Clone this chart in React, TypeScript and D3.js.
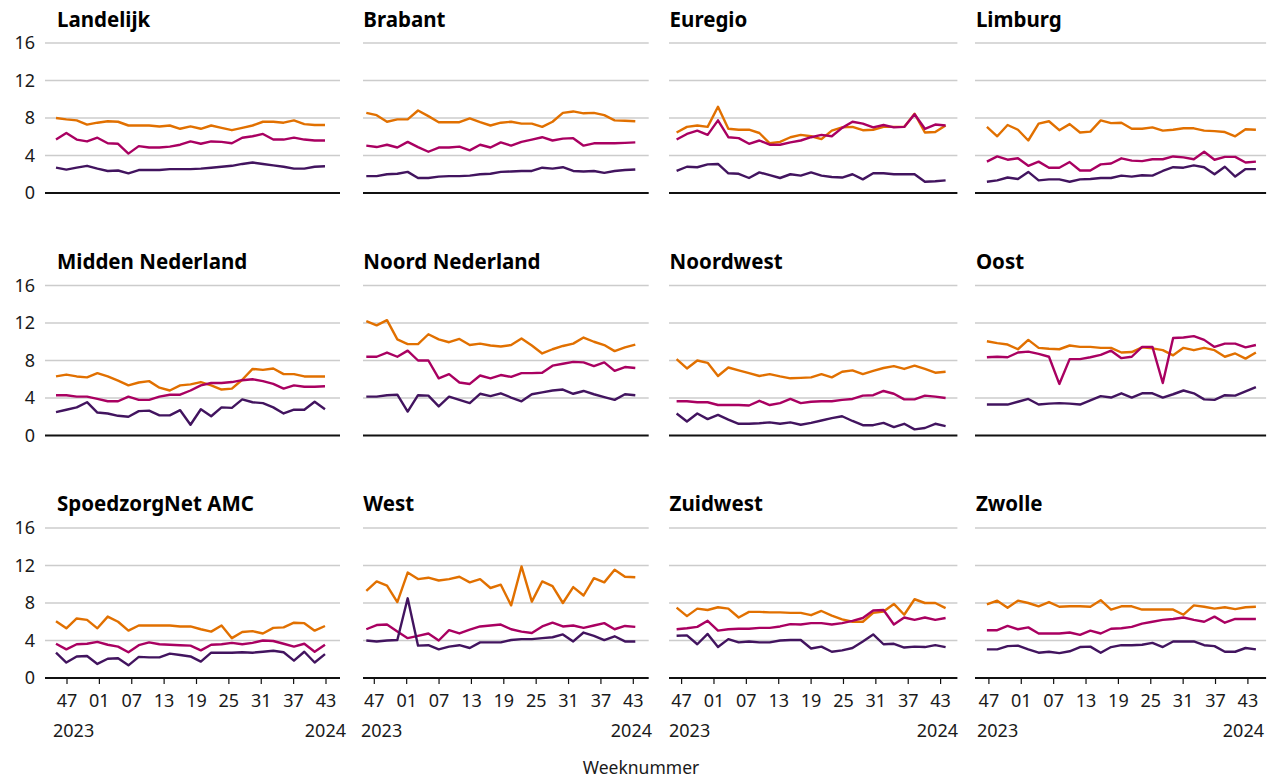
import React from 'react';
import * as d3 from 'd3';

const regions = [
  'Landelijk', 'Brabant', 'Euregio', 'Limburg',
  'Midden Nederland', 'Noord Nederland', 'Noordwest', 'Oost',
  'SpoedzorgNet AMC', 'West', 'Zuidwest', 'Zwolle',
];

// one row per region, 27 fortnightly points each
const orange: number[][] = [
  [8.0, 7.85, 7.75, 7.3, 7.5, 7.65, 7.6, 7.2, 7.2, 7.2, 7.1, 7.2, 6.85, 7.1, 6.85, 7.2, 6.95, 6.7, 6.95, 7.2, 7.6, 7.6, 7.5, 7.75, 7.35, 7.25, 7.25],
  [8.55, 8.3, 7.6, 7.85, 7.85, 8.8, 8.2, 7.55, 7.55, 7.55, 7.95, 7.55, 7.2, 7.5, 7.6, 7.4, 7.4, 7.05, 7.6, 8.55, 8.7, 8.5, 8.55, 8.3, 7.75, 7.7, 7.65],
  [6.45, 7.05, 7.2, 7.05, 9.2, 6.85, 6.75, 6.75, 6.4, 5.3, 5.45, 5.95, 6.2, 6.05, 5.75, 6.65, 7.0, 7.05, 6.7, 6.75, 7.05, 7.05, 7.05, 8.45, 6.45, 6.5, 7.2],
  [7.05, 6.05, 7.25, 6.75, 5.6, 7.4, 7.65, 6.7, 7.35, 6.45, 6.55, 7.75, 7.45, 7.5, 6.85, 6.85, 7.0, 6.65, 6.75, 6.9, 6.9, 6.65, 6.6, 6.5, 6.05, 6.8, 6.75],
  [6.3, 6.5, 6.3, 6.2, 6.65, 6.3, 5.85, 5.35, 5.65, 5.8, 5.1, 4.8, 5.35, 5.45, 5.7, 5.35, 4.9, 5.0, 5.95, 7.1, 7.0, 7.15, 6.55, 6.55, 6.3, 6.3, 6.3],
  [12.2, 11.75, 12.3, 10.25, 9.75, 9.75, 10.8, 10.25, 9.95, 10.3, 9.65, 9.8, 9.6, 9.5, 9.65, 10.35, 9.6, 8.75, 9.2, 9.55, 9.8, 10.45, 10.0, 9.65, 9.0, 9.4, 9.7],
  [8.15, 7.15, 8.0, 7.75, 6.35, 7.25, 6.95, 6.65, 6.35, 6.55, 6.3, 6.1, 6.15, 6.2, 6.55, 6.2, 6.8, 6.95, 6.55, 6.9, 7.2, 7.4, 7.1, 7.45, 7.1, 6.7, 6.8],
  [10.05, 9.85, 9.7, 9.2, 10.2, 9.35, 9.25, 9.2, 9.6, 9.45, 9.45, 9.35, 9.35, 8.85, 8.9, 9.4, 9.3, 9.1, 8.55, 9.35, 9.1, 9.35, 9.1, 8.4, 8.75, 8.2, 8.85],
  [6.05, 5.3, 6.35, 6.2, 5.3, 6.55, 6.0, 5.05, 5.6, 5.6, 5.6, 5.6, 5.5, 5.5, 5.2, 4.95, 5.6, 4.25, 4.9, 5.0, 4.75, 5.35, 5.4, 5.9, 5.85, 5.05, 5.55],
  [9.3, 10.3, 9.85, 8.1, 11.25, 10.55, 10.7, 10.4, 10.55, 10.8, 10.2, 10.55, 9.6, 9.95, 7.75, 11.9, 8.15, 10.3, 9.8, 8.0, 9.7, 8.8, 10.65, 10.2, 11.55, 10.8, 10.75],
  [7.5, 6.6, 7.4, 7.25, 7.55, 7.4, 6.45, 7.05, 7.05, 7.0, 7.0, 6.95, 6.95, 6.7, 7.15, 6.65, 6.25, 6.0, 6.0, 6.95, 7.1, 7.9, 6.75, 8.4, 8.0, 8.0, 7.45],
  [7.85, 8.25, 7.5, 8.25, 8.0, 7.65, 8.1, 7.6, 7.65, 7.65, 7.6, 8.3, 7.3, 7.65, 7.65, 7.3, 7.3, 7.3, 7.3, 6.75, 7.75, 7.6, 7.4, 7.55, 7.35, 7.55, 7.6],
];

const magenta: number[][] = [
  [5.7, 6.4, 5.7, 5.5, 5.9, 5.3, 5.25, 4.2, 5.0, 4.85, 4.85, 4.95, 5.15, 5.5, 5.25, 5.5, 5.45, 5.3, 5.9, 6.05, 6.3, 5.7, 5.7, 5.9, 5.7, 5.6, 5.6],
  [5.05, 4.9, 5.15, 4.85, 5.45, 4.9, 4.4, 4.85, 4.85, 4.95, 4.55, 5.15, 4.85, 5.4, 5.05, 5.45, 5.7, 5.95, 5.6, 5.8, 5.85, 5.05, 5.3, 5.3, 5.3, 5.35, 5.4],
  [5.7, 6.3, 6.65, 6.2, 7.75, 5.95, 5.85, 5.25, 5.6, 5.15, 5.15, 5.4, 5.6, 5.95, 6.2, 6.05, 6.95, 7.6, 7.4, 7.0, 7.25, 7.0, 7.05, 8.4, 6.85, 7.3, 7.2],
  [3.35, 3.9, 3.55, 3.7, 2.9, 3.35, 2.7, 2.7, 3.3, 2.4, 2.4, 3.05, 3.15, 3.7, 3.45, 3.4, 3.6, 3.6, 3.9, 3.8, 3.6, 4.4, 3.55, 3.85, 3.85, 3.25, 3.35],
  [4.3, 4.3, 4.15, 4.15, 3.9, 3.65, 3.65, 4.15, 3.8, 3.8, 4.15, 4.35, 4.35, 4.8, 5.35, 5.6, 5.6, 5.7, 5.9, 6.0, 5.8, 5.5, 5.0, 5.35, 5.2, 5.2, 5.25],
  [8.4, 8.4, 8.85, 8.4, 9.05, 8.0, 8.0, 6.1, 6.55, 5.65, 5.5, 6.4, 6.1, 6.45, 6.25, 6.65, 6.65, 6.7, 7.45, 7.65, 7.85, 7.8, 7.4, 7.8, 6.9, 7.3, 7.2],
  [3.65, 3.65, 3.55, 3.55, 3.25, 3.25, 3.25, 3.2, 3.7, 3.25, 3.45, 3.9, 3.45, 3.6, 3.65, 3.65, 3.8, 3.9, 4.25, 4.3, 4.75, 4.45, 3.85, 3.85, 4.25, 4.15, 4.0],
  [8.35, 8.4, 8.35, 8.85, 8.95, 8.7, 8.4, 5.5, 8.15, 8.15, 8.35, 8.6, 9.05, 8.25, 8.4, 9.45, 9.45, 5.6, 10.4, 10.45, 10.6, 10.2, 9.45, 9.8, 9.8, 9.4, 9.65],
  [3.65, 3.05, 3.6, 3.65, 3.85, 3.55, 3.35, 2.75, 3.5, 3.8, 3.6, 3.55, 3.5, 3.45, 2.95, 3.55, 3.6, 3.75, 3.6, 3.75, 4.0, 3.95, 3.65, 3.35, 3.65, 2.8, 3.55],
  [5.2, 5.65, 5.7, 4.95, 4.25, 4.5, 4.75, 4.0, 5.1, 4.75, 5.15, 5.5, 5.6, 5.7, 5.2, 4.95, 4.8, 5.5, 5.9, 5.5, 5.6, 5.35, 5.6, 5.85, 5.2, 5.55, 5.45],
  [5.2, 5.3, 5.45, 6.1, 5.05, 5.2, 5.25, 5.25, 5.35, 5.35, 5.5, 5.75, 5.7, 5.85, 5.85, 5.7, 5.85, 6.1, 6.4, 7.2, 7.25, 5.7, 6.45, 6.2, 6.45, 6.2, 6.4],
  [5.1, 5.1, 5.55, 5.2, 5.4, 4.75, 4.75, 4.75, 4.85, 4.6, 5.05, 4.75, 5.25, 5.3, 5.45, 5.8, 6.0, 6.2, 6.3, 6.45, 6.2, 6.0, 6.55, 5.9, 6.3, 6.3, 6.3],
];

const purple: number[][] = [
  [2.7, 2.5, 2.7, 2.9, 2.6, 2.35, 2.4, 2.1, 2.45, 2.45, 2.45, 2.55, 2.55, 2.55, 2.6, 2.7, 2.8, 2.9, 3.1, 3.25, 3.1, 2.95, 2.8, 2.6, 2.6, 2.8, 2.85],
  [1.8, 1.8, 2.0, 2.05, 2.25, 1.6, 1.6, 1.75, 1.8, 1.8, 1.85, 2.0, 2.05, 2.25, 2.3, 2.35, 2.35, 2.7, 2.6, 2.75, 2.35, 2.3, 2.35, 2.15, 2.35, 2.45, 2.5],
  [2.35, 2.8, 2.75, 3.05, 3.1, 2.1, 2.05, 1.6, 2.2, 1.9, 1.6, 2.0, 1.85, 2.2, 1.85, 1.7, 1.65, 2.0, 1.45, 2.1, 2.1, 2.0, 2.0, 2.0, 1.2, 1.25, 1.35],
  [1.2, 1.35, 1.65, 1.5, 2.25, 1.35, 1.45, 1.45, 1.2, 1.45, 1.5, 1.6, 1.6, 1.85, 1.75, 1.9, 1.85, 2.35, 2.75, 2.7, 2.95, 2.75, 2.0, 2.8, 1.75, 2.55, 2.55],
  [2.5, 2.75, 3.0, 3.55, 2.45, 2.35, 2.1, 2.0, 2.6, 2.65, 2.15, 2.15, 2.7, 1.15, 2.8, 2.05, 3.0, 2.95, 3.85, 3.55, 3.45, 3.0, 2.35, 2.75, 2.75, 3.6, 2.8],
  [4.15, 4.15, 4.3, 4.35, 2.55, 4.3, 4.25, 3.1, 4.15, 3.8, 3.45, 4.45, 4.2, 4.5, 4.05, 3.65, 4.4, 4.6, 4.8, 4.9, 4.45, 4.75, 4.4, 4.1, 3.8, 4.4, 4.3],
  [2.35, 1.5, 2.35, 1.75, 2.2, 1.7, 1.25, 1.25, 1.3, 1.4, 1.25, 1.4, 1.15, 1.35, 1.6, 1.85, 2.05, 1.55, 1.1, 1.1, 1.35, 0.9, 1.25, 0.65, 0.8, 1.25, 1.0],
  [3.3, 3.3, 3.3, 3.6, 3.9, 3.3, 3.4, 3.45, 3.4, 3.3, 3.75, 4.2, 4.05, 4.5, 4.05, 4.5, 4.5, 4.05, 4.4, 4.8, 4.5, 3.85, 3.8, 4.3, 4.25, 4.7, 5.15],
  [2.7, 1.65, 2.3, 2.35, 1.5, 2.05, 2.1, 1.35, 2.25, 2.2, 2.2, 2.6, 2.45, 2.3, 1.75, 2.7, 2.7, 2.7, 2.75, 2.7, 2.8, 2.9, 2.75, 1.85, 2.8, 1.65, 2.55],
  [4.0, 3.9, 4.0, 4.05, 8.5, 3.45, 3.5, 3.05, 3.35, 3.5, 3.2, 3.8, 3.8, 3.8, 4.05, 4.15, 4.15, 4.25, 4.35, 4.65, 3.9, 4.85, 4.5, 4.05, 4.45, 3.9, 3.9],
  [4.5, 4.55, 3.6, 4.7, 3.3, 4.15, 3.8, 3.9, 3.8, 3.8, 4.0, 4.05, 4.05, 3.15, 3.35, 2.8, 2.95, 3.2, 3.9, 4.65, 3.6, 3.65, 3.25, 3.35, 3.3, 3.5, 3.3],
  [3.05, 3.05, 3.4, 3.45, 3.05, 2.7, 2.8, 2.65, 2.85, 3.3, 3.35, 2.7, 3.3, 3.5, 3.5, 3.55, 3.75, 3.3, 3.9, 3.9, 3.9, 3.5, 3.4, 2.8, 2.8, 3.2, 3.05],
];

const weekTicks = ['47', '01', '07', '13', '19', '25', '31', '37', '43'];
const yTicks = [0, 4, 8, 12, 16];
const startYear = '2023';
const endYear = '2024';

const COLORS = { orange: '#e17000', magenta: '#a90061', purple: '#42145f' };
const FONT = '"Noto Sans", "Open Sans", sans-serif';

const Panel: React.FC<{ index: number }> = ({ index }) => {
  const col = index % 4;
  const row = Math.floor(index / 4);
  const bottom = 193 + 242.5 * row;

  const y = d3.scaleLinear().domain([0, 16]).range([bottom, bottom - 150]);
  const n = orange[index].length;
  const xData = d3.scaleLinear().domain([0, n - 1]).range([56 + 310.3 * col, 325 + 310.3 * col]);
  const xTick = d3.scaleLinear().domain([0, weekTicks.length - 1]).range([67 + 307.3 * col, 326 + 307.3 * col]);

  const gridLeft = col === 0 ? 45 : 363 + 306 * (col - 1);
  const gridRight = 340 + 308.7 * col;
  const titleX = 57 + 306.3 * col;

  const line = d3
    .line<number>()
    .x((_, j) => xData(j))
    .y((v) => y(v));

  const series = [
    { data: orange[index], color: COLORS.orange },
    { data: magenta[index], color: COLORS.magenta },
    { data: purple[index], color: COLORS.purple },
  ];

  return (
    <g>
      <text x={titleX} y={27 + 242 * row} fontSize={20.5} fontWeight={700} fill="#000">
        {regions[index]}
      </text>

      {/* gridlines */}
      {yTicks.filter((t) => t > 0).map((t) => (
        <line key={t} x1={gridLeft} x2={gridRight} y1={y(t)} y2={y(t)} stroke="#cccccc" strokeWidth={1.5} />
      ))}

      {col === 0 &&
        yTicks.map((t) => (
          <text key={t} x={35} y={y(t)} dy="0.36em" textAnchor="end" fontSize={18} fill="#1a1a1a">
            {t}
          </text>
        ))}

      {series.map((s, k) => (
        <path key={k} d={line(s.data) ?? ''} fill="none" stroke={s.color} strokeWidth={2.4} strokeLinejoin="round" />
      ))}

      <line x1={gridLeft} x2={gridRight} y1={bottom} y2={bottom} stroke="#111" strokeWidth={2} />

      {row === 2 && (
        <g>
          {weekTicks.map((t, k) => (
            <g key={t}>
              <line x1={xTick(k)} x2={xTick(k)} y1={bottom} y2={bottom + 6} stroke="#111" strokeWidth={1.2} />
              <text x={xTick(k)} y={bottom + 29} textAnchor="middle" fontSize={18} fill="#1a1a1a">
                {t}
              </text>
            </g>
          ))}
          <text x={53 + 308 * col} y={bottom + 59} fontSize={18} fill="#1a1a1a">
            {startYear}
          </text>
          <text x={346 + 306 * col} y={bottom + 59} textAnchor="end" fontSize={18} fill="#1a1a1a">
            {endYear}
          </text>
        </g>
      )}
    </g>
  );
};

export default function App() {
  return (
    <>
      <style>{'body{margin:0}'}</style>
      <svg width={1277} height={780} style={{ display: 'block', background: '#fff', fontFamily: FONT }}>
        {regions.map((_, i) => (
          <Panel key={i} index={i} />
        ))}
        <text x={641} y={774} textAnchor="middle" fontSize={17.5} fill="#1a1a1a">
          Weeknummer
        </text>
      </svg>
    </>
  );
}
